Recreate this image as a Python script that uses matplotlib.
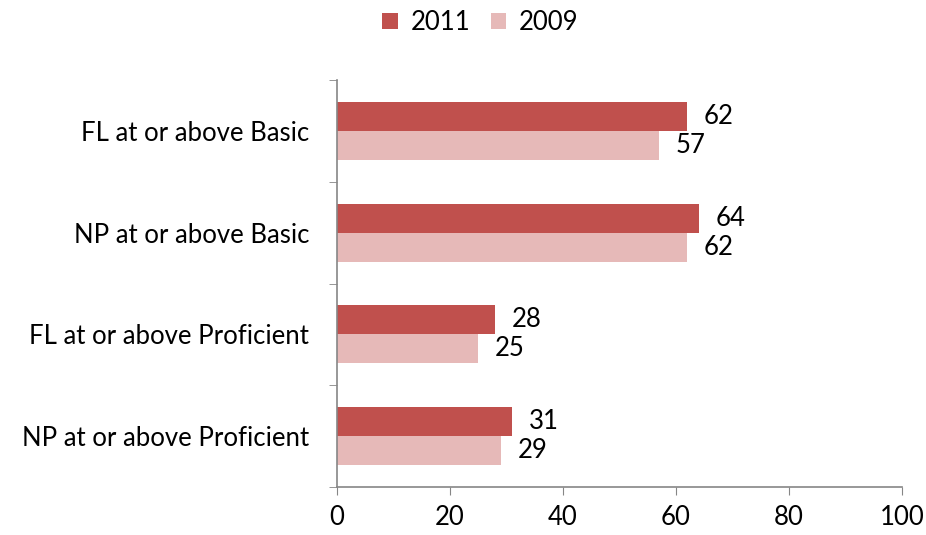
import numpy as np
import matplotlib.pyplot as plt

categories = ["FL at or above Basic", "NP at or above Basic",
              "FL at or above Proficient", "NP at or above Proficient"]
vals_2011 = [62, 64, 28, 31]
vals_2009 = [57, 62, 25, 29]

plt.rcParams['font.family'] = ['Lato', 'DejaVu Sans']
fs = 18.5

fig = plt.figure(figsize=(9.26, 5.35), dpi=100)
ax = fig.add_axes([0.364, 0.09, 0.61, 0.76])

y = np.arange(len(categories))
h = 0.285
b1 = ax.barh(y - h / 2, vals_2011, height=h, color="#C0504D", label="2011")
b2 = ax.barh(y + h / 2, vals_2009, height=h, color="#E6B9B8", label="2009")

for bars, vals in [(b1, vals_2011), (b2, vals_2009)]:
    for bar, v in zip(bars, vals):
        ax.annotate(str(v), (bar.get_width(), bar.get_y() + bar.get_height() / 2),
                    xytext=(12, 0), textcoords="offset points",
                    va="center", ha="left", fontsize=fs)

ax.set_xlim(0, 100)
ax.set_ylim(len(categories) - 0.5, -0.5)
ax.set_xticks(np.arange(0, 101, 20))
ax.set_yticks(y)
ax.set_yticklabels(categories)
ax.set_yticks(np.arange(-0.5, len(categories)), minor=True)
ax.tick_params(axis="y", which="major", length=0, pad=20, labelsize=fs)
ax.tick_params(axis="y", which="minor", length=6, color="#868686", direction="out")
ax.tick_params(axis="x", length=6, color="#868686", labelsize=fs, pad=7)

for s in ["top", "right"]:
    ax.spines[s].set_visible(False)
for s in ["left", "bottom"]:
    ax.spines[s].set_color("#868686")
    ax.spines[s].set_linewidth(1.2)

fig.legend(handles=[b1, b2], loc="center", bbox_to_anchor=(0.519, 0.958), ncol=2,
           frameon=False, fontsize=fs, handlelength=0.6, handleheight=0.6,
           columnspacing=0.8, handletextpad=0.5)

fig.savefig("out.png", dpi=100)
